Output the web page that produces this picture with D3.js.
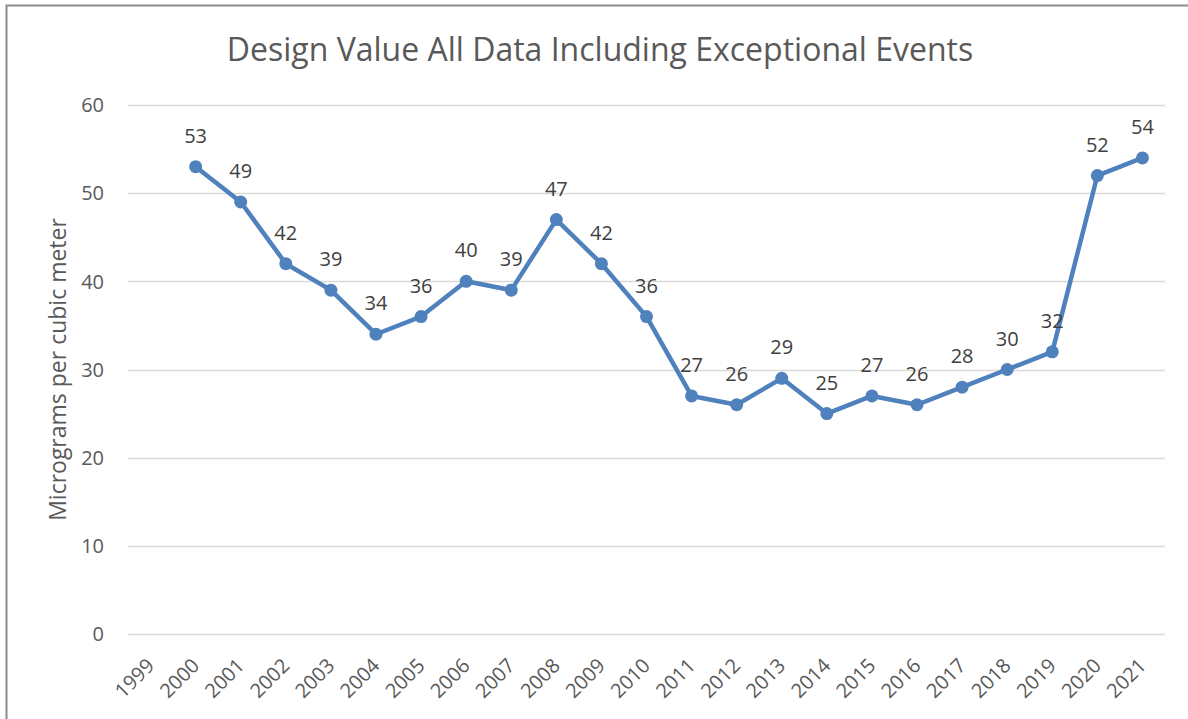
<!DOCTYPE html>
<html>
<head>
<meta charset="utf-8">
<script src="https://cdn.jsdelivr.net/npm/d3@7"></script>
<style>
  body { margin: 0; background: #fff; }
  text { font-family: "Open Sans", "Noto Sans", sans-serif; }
</style>
</head>
<body>
<div class="chartDiv"></div>
<script>
var years = ["1999", "2000", "2001", "2002", "2003", "2004", "2005", "2006", "2007", "2008", "2009", "2010",
             "2011", "2012", "2013", "2014", "2015", "2016", "2017", "2018", "2019", "2020", "2021"];
var valueYears = ["2000", "2001", "2002", "2003", "2004", "2005", "2006", "2007", "2008", "2009", "2010",
                  "2011", "2012", "2013", "2014", "2015", "2016", "2017", "2018", "2019", "2020", "2021"];
var values = [53, 49, 42, 39, 34, 36, 40, 39, 47, 42, 36, 27, 26, 29, 25, 27, 26, 28, 30, 32, 52, 54];
var yTicks = [0, 10, 20, 30, 40, 50, 60];

var width = 1188, height = 719;
var margin = { left: 128, right: 23, top: 105, bottom: 85 };

var svg = d3.select(".chartDiv").append("svg")
    .attr("width", width)
    .attr("height", height);

// chart frame
svg.append("rect")
    .attr("x", 6.5)
    .attr("y", 5.5)
    .attr("width", width + 20)
    .attr("height", height + 20)
    .attr("fill", "white")
    .attr("stroke", "#8c8c8c")
    .attr("stroke-width", 2);

var x = d3.scaleBand()
    .domain(years)
    .range([margin.left, width - margin.right]);

var y = d3.scaleLinear()
    .domain([0, 60])
    .range([height - margin.bottom, margin.top]);

// gridlines
svg.append("g")
    .selectAll("line")
    .data(yTicks)
    .join("line")
    .attr("x1", margin.left)
    .attr("x2", width - margin.right)
    .attr("y1", d => Math.round(y(d)) + 0.5)
    .attr("y2", d => Math.round(y(d)) + 0.5)
    .attr("stroke", "#d9d9d9")
    .attr("stroke-width", 1.5);

// y tick labels
svg.append("g")
    .selectAll("text")
    .data(yTicks)
    .join("text")
    .attr("x", 104)
    .attr("y", d => y(d))
    .attr("dy", "0.36em")
    .attr("text-anchor", "end")
    .attr("font-size", 20)
    .attr("fill", "#595959")
    .text(d => d);

// x tick labels
svg.append("g")
    .selectAll("text")
    .data(years)
    .join("text")
    .attr("transform", d => "translate(" + (x(d) + x.bandwidth() / 2) + "," + (height - margin.bottom + 28) + ") rotate(-45)")
    .attr("text-anchor", "end")
    .attr("dy", "0.35em")
    .attr("font-size", 20)
    .attr("fill", "#595959")
    .text(d => d);

// y axis title
svg.append("text")
    .attr("transform", "translate(66," + ((margin.top + height - margin.bottom) / 2) + ") rotate(-90)")
    .attr("text-anchor", "middle")
    .attr("font-size", 23)
    .attr("fill", "#595959")
    .text("Micrograms per cubic meter");

// title
svg.append("text")
    .attr("x", 600)
    .attr("y", 61)
    .attr("text-anchor", "middle")
    .attr("font-size", 32)
    .attr("fill", "#595959")
    .text("Design Value All Data Including Exceptional Events");

var points = valueYears.map((d, i) => ({ year: d, value: values[i] }));

var line = d3.line()
    .x(d => x(d.year) + x.bandwidth() / 2)
    .y(d => y(d.value));

svg.append("path")
    .datum(points)
    .attr("d", line)
    .attr("fill", "none")
    .attr("stroke", "#4f81bd")
    .attr("stroke-width", 4.5)
    .attr("stroke-linejoin", "round");

svg.append("g")
    .selectAll("circle")
    .data(points)
    .join("circle")
    .attr("cx", d => x(d.year) + x.bandwidth() / 2)
    .attr("cy", d => y(d.value))
    .attr("r", 6.5)
    .attr("fill", "#4f81bd");

// data labels
svg.append("g")
    .selectAll("text")
    .data(points)
    .join("text")
    .attr("x", d => x(d.year) + x.bandwidth() / 2)
    .attr("y", d => y(d.value) - 24)
    .attr("text-anchor", "middle")
    .attr("font-size", 20)
    .attr("fill", "#404040")
    .text(d => d.value);
</script>
</body>
</html>
